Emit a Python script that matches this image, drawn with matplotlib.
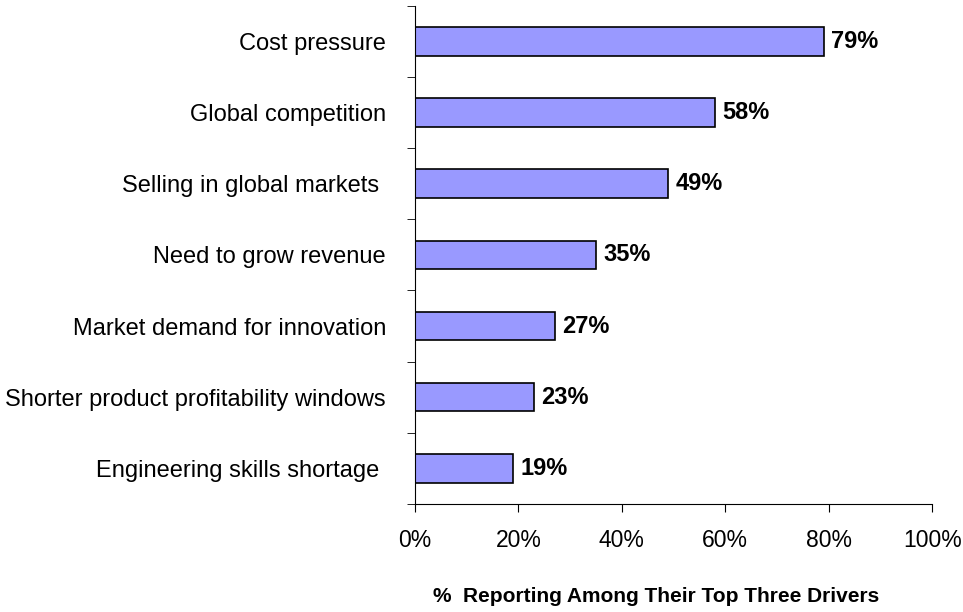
import numpy as np
import matplotlib.pyplot as plt

plt.rcParams['font.family'] = ['Liberation Sans', 'DejaVu Sans']

categories = [
    "Cost pressure",
    "Global competition",
    "Selling in global markets ",
    "Need to grow revenue",
    "Market demand for innovation",
    "Shorter product profitability windows",
    "Engineering skills shortage ",
]
values = [79, 58, 49, 35, 27, 23, 19]
xticks = [0, 20, 40, 60, 80, 100]

fig = plt.figure(figsize=(9.63, 6.12), dpi=100)
ax = fig.add_axes([0.431, 0.1765, 0.537, 0.814])

pos = np.arange(len(categories))[::-1]
ax.barh(pos, values, height=0.4, color="#9999FF", edgecolor="black", linewidth=1.2)

for p, v in zip(pos, values):
    ax.text(v + 1.4, p, f"{v}%", va="center", ha="left", fontsize=17, fontweight="bold")

ax.set_xlim(0, 100)
ax.set_ylim(-0.5, len(categories) - 0.5)
ax.set_xticks(xticks)
ax.set_xticklabels([f"{t}%" for t in xticks], fontsize=16.5)
ax.set_yticks(pos)
ax.set_yticklabels(categories, fontsize=17)
ax.tick_params(axis="y", length=0, pad=21)
# small ticks between the categories
ax.set_yticks(np.arange(-0.5, len(categories)), minor=True)
ax.tick_params(axis="y", which="minor", length=6, direction="out")
ax.tick_params(axis="x", length=6, pad=12)

for side in ("top", "right"):
    ax.spines[side].set_visible(False)

ax.set_xlabel("%  Reporting Among Their Top Three Drivers", fontsize=15,
              fontweight="bold")
ax.xaxis.set_label_coords(0.466, -0.166)

fig.savefig("out.png", dpi=100)
